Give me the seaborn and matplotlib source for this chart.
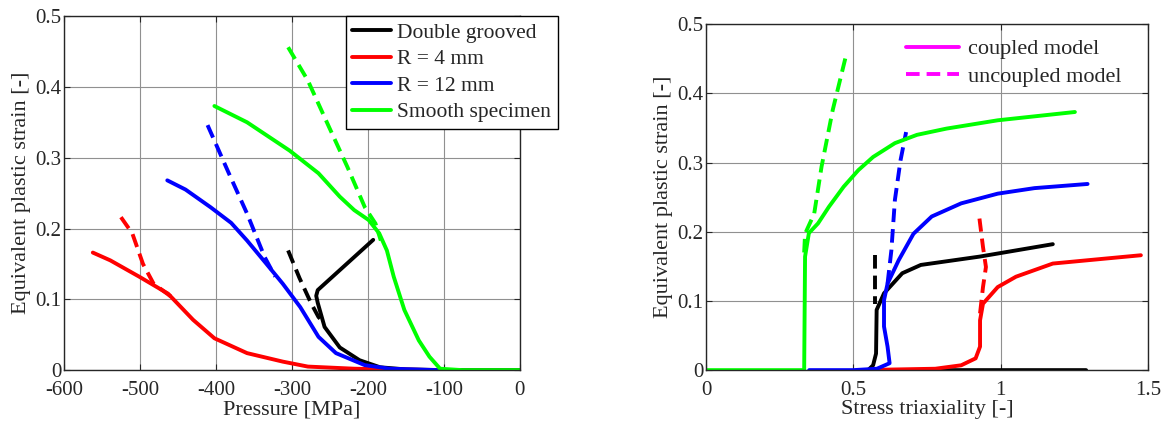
import matplotlib
matplotlib.use("Agg")
import matplotlib.pyplot as plt
from matplotlib.lines import Line2D
import pandas as pd
import seaborn as sns

# ---- left panel: pressure [MPa] vs equivalent plastic strain ----
dg_p = [-193, -266, -268, -266, -257, -237, -211, -184, -150, -100, 0]
dg_e = [0.184, 0.113, 0.105, 0.095, 0.061, 0.032, 0.014, 0.004, 0.001, 0.0, 0.0]
dg_p_unc = [-305, -290, -275, -265, -257]
dg_e_unc = [0.169, 0.130, 0.095, 0.075, 0.066]

r4_p = [-562, -539, -501, -463, -430, -402, -359, -312, -279, -218, -171, -109]
r4_e = [0.166, 0.155, 0.132, 0.108, 0.071, 0.045, 0.024, 0.012, 0.005, 0.002, 0.001, 0.0]
r4_p_unc = [-525, -510, -496, -482, -458]
r4_e_unc = [0.216, 0.193, 0.150, 0.122, 0.103]

r12_p = [-464, -440, -407, -380, -359, -335, -312, -289, -265, -242, -204, -171, -109]
r12_e = [0.268, 0.255, 0.230, 0.208, 0.183, 0.152, 0.122, 0.089, 0.047, 0.024, 0.007, 0.002, 0.0]
r12_p_unc = [-411, -383, -359, -336, -322]
r12_e_unc = [0.346, 0.278, 0.221, 0.160, 0.132]

sm_p = [-402, -359, -303, -265, -237, -218, -199, -185, -175, -166, -152, -133, -119, -105, -76, 0]
sm_e = [0.373, 0.350, 0.310, 0.278, 0.245, 0.226, 0.212, 0.193, 0.169, 0.132, 0.085, 0.042, 0.019, 0.002, 0.0, 0.0]
sm_p_unc = [-305, -279, -251, -227, -204, -190, -183]
sm_e_unc = [0.456, 0.409, 0.343, 0.287, 0.230, 0.207, 0.183]

# ---- right panel: stress triaxiality vs equivalent plastic strain ----
dg_t = [1.29, 0.55, 0.567, 0.577, 0.579, 0.604, 0.666, 0.729, 0.928, 1.177]
dg_s = [0.0, 0.0, 0.007, 0.024, 0.087, 0.111, 0.140, 0.152, 0.164, 0.182]
dg_t_unc = [0.575, 0.575]
dg_s_unc = [0.166, 0.096]

r4_t = [0.52, 0.778, 0.866, 0.915, 0.930, 0.930, 0.940, 0.990, 1.052, 1.177, 1.301, 1.476]
r4_s = [0.0, 0.002, 0.007, 0.017, 0.034, 0.072, 0.096, 0.120, 0.135, 0.154, 0.159, 0.166]
r4_t_unc = [0.930, 0.940, 0.950, 0.940, 0.928]
r4_s_unc = [0.082, 0.120, 0.149, 0.178, 0.219]

r12_t = [0.35, 0.50, 0.58, 0.623, 0.616, 0.604, 0.604, 0.616, 0.654, 0.704, 0.766, 0.866, 0.990, 1.115, 1.295]
r12_s = [0.0, 0.0, 0.002, 0.010, 0.034, 0.063, 0.101, 0.125, 0.159, 0.197, 0.222, 0.241, 0.255, 0.263, 0.269]
r12_t_unc = [0.616, 0.629, 0.641, 0.660, 0.679]
r12_s_unc = [0.125, 0.173, 0.246, 0.303, 0.344]

sm_t = [0.0, 0.333, 0.336, 0.349, 0.380, 0.417, 0.467, 0.517, 0.567, 0.641, 0.716, 0.816, 0.990, 1.252]
sm_s = [0.0, 0.0, 0.164, 0.198, 0.212, 0.236, 0.265, 0.289, 0.308, 0.328, 0.340, 0.349, 0.361, 0.373]
sm_t_unc = [0.333, 0.336, 0.367, 0.392, 0.430, 0.477]
sm_s_unc = [0.170, 0.197, 0.226, 0.294, 0.376, 0.458]

labels = ["Double grooved", "R = 4 mm", "R = 12 mm", "Smooth specimen"]
colors = ["black", "red", "blue", "#00ff00"]

sns.set_style("ticks")
plt.rcParams["font.family"] = ["Liberation Serif", "DejaVu Serif"]
plt.rcParams["axes.unicode_minus"] = False

fig = plt.figure(figsize=(11.69, 4.23), dpi=100)
ax1 = fig.add_axes([0.0547, 0.125, 0.390, 0.837])
ax2 = fig.add_axes([0.604, 0.125, 0.378, 0.818])

lw = 2.8
dash = (3.5, 1.8)


def draw(ax, x, y, color, dashed=False):
    df = pd.DataFrame({"x": x, "y": y})
    sns.lineplot(data=df, x="x", y="y", ax=ax, color=color, lw=lw, sort=False,
                 estimator=None, legend=False)
    if dashed:
        ax.lines[-1].set_dashes(dash)


left = [(dg_p, dg_e, dg_p_unc, dg_e_unc), (r4_p, r4_e, r4_p_unc, r4_e_unc),
        (r12_p, r12_e, r12_p_unc, r12_e_unc), (sm_p, sm_e, sm_p_unc, sm_e_unc)]
right = [(dg_t, dg_s, dg_t_unc, dg_s_unc), (r4_t, r4_s, r4_t_unc, r4_s_unc),
         (r12_t, r12_s, r12_t_unc, r12_s_unc), (sm_t, sm_s, sm_t_unc, sm_s_unc)]

for (x, y, xu, yu), c in zip(left, colors):
    draw(ax1, xu, yu, c, dashed=True)
    draw(ax1, x, y, c)
for (x, y, xu, yu), c in zip(right, colors):
    draw(ax2, xu, yu, c, dashed=True)
    draw(ax2, x, y, c)

for ax in (ax1, ax2):
    ax.set_ylim(0, 0.5)
    ax.set_yticks([0, 0.1, 0.2, 0.3, 0.4, 0.5])
    ax.set_yticklabels(["0", "0.1", "0.2", "0.3", "0.4", "0.5"])
    ax.grid(True, color="#909090", lw=0.8)
    ax.tick_params(direction="in", top=True, right=True, labelsize=15, length=4)
    ax.tick_params(axis="x", pad=8)
    ax.tick_params(axis="y", pad=2)
    for sp in ax.spines.values():
        sp.set_visible(True)
        sp.set_linewidth(1.0)
    ax.set_ylabel("Equivalent plastic strain [-]", fontsize=16, labelpad=3)

ax1.set_xlim(-600, 0)
ax1.set_xticks([-600, -500, -400, -300, -200, -100, 0])
ax1.set_xlabel("Pressure [MPa]", fontsize=16, labelpad=0)

ax2.set_xlim(0, 1.5)
ax2.set_xticks([0, 0.5, 1, 1.5])
ax2.set_xticklabels(["0", "0.5", "1", "1.5"])
ax2.set_xlabel("Stress triaxiality [-]", fontsize=16, labelpad=0)

h1 = [Line2D([], [], color=c, lw=lw) for c in colors]
leg1 = ax1.legend(h1, labels, loc="upper right", bbox_to_anchor=(1.083, 1.0),
                  borderaxespad=0, fontsize=15.5, frameon=True, fancybox=False,
                  handlelength=1.8, handletextpad=0.3, labelspacing=0.3,
                  borderpad=0.3)
leg1.get_frame().set_edgecolor("black")
leg1.get_frame().set_linewidth(1.0)
leg1.get_frame().set_alpha(1)

h2 = [Line2D([], [], color="magenta", lw=lw),
      Line2D([], [], color="magenta", lw=lw, dashes=dash)]
ax2.legend(h2, ["coupled model", "uncoupled model"], loc="upper right",
           bbox_to_anchor=(0.985, 1.015), fontsize=16, frameon=False,
           handlelength=2.4, handletextpad=0.4, labelspacing=0.3)

fig.savefig("out.png", dpi=100)
